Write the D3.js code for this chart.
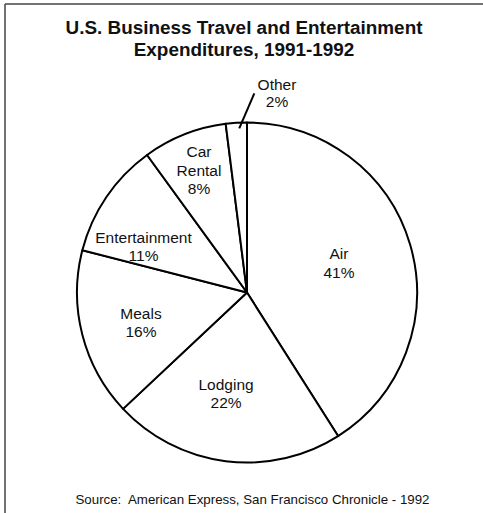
<!DOCTYPE html>
<html>
<head>
<meta charset="utf-8">
<script src="https://cdn.jsdelivr.net/npm/d3@7"></script>
<style>
  html, body { margin: 0; padding: 0; background: #fff; }
  svg { display: block; }
  text { font-family: "Liberation Sans", Arial, Helvetica, sans-serif; fill: #111; white-space: pre; }
</style>
</head>
<body>
<svg id="chart" width="483" height="513"></svg>
<script>
// Expenditure categories and their shares (percent), clockwise from 12 o'clock
const categories = ["Air", "Lodging", "Meals", "Entertainment", "Car Rental", "Other"];
const shares = [41, 22, 16, 11, 8, 2];
// Label text lines for each slice (category name may wrap)
const labelLines = [["Air"], ["Lodging"], ["Meals"], ["Entertainment"], ["Car", "Rental"], ["Other"]];
// Label placement: radius as a fraction of the pie radius, angle nudge in degrees
const labelRadius = [0.568, 0.607, 0.648, 0.666, 0.774, 1.187];
const labelNudge = [-1.6, 4.5, -1.4, -10.3, 0.2, 12.15];
const titleLines = ["U.S. Business Travel and Entertainment", "Expenditures, 1991-1992"];
const sourceNote = "Source:  American Express, San Francisco Chronicle - 1992";

const svg = d3.select("#chart");
const W = 483, H = 513;
const cx = 247, cy = 292.5, R = 170;

// Frame: top rule and left rule
svg.append("line").attr("x1", 5).attr("y1", 4).attr("x2", W).attr("y2", 4)
  .attr("stroke", "#444").attr("stroke-width", 1.5);
svg.append("line").attr("x1", 5).attr("y1", 4).attr("x2", 5).attr("y2", H)
  .attr("stroke", "#444").attr("stroke-width", 1.5);

// Title
svg.append("g").selectAll("text").data(titleLines).join("text")
  .attr("x", 244).attr("y", (d, i) => 34 + i * 21.5)
  .attr("text-anchor", "middle")
  .style("font-weight", "bold").style("font-size", "18.9px")
  .text(d => d);

const data = categories.map((c, i) => ({
  category: c, value: shares[i], lines: labelLines[i],
  lr: labelRadius[i], nudge: labelNudge[i]
}));

const pie = d3.pie().value(d => d.value).sort(null);
const arcs = pie(data);
const arc = d3.arc().innerRadius(0).outerRadius(R);

const g = svg.append("g").attr("transform", `translate(${cx},${cy})`);

g.selectAll("path.slice").data(arcs).join("path")
  .attr("class", "slice")
  .attr("d", arc)
  .attr("fill", "#fff")
  .attr("stroke", "#000")
  .attr("stroke-width", 2)
  .attr("stroke-linejoin", "round");

const polar = (angle, r) => [Math.sin(angle) * r, -Math.cos(angle) * r];
const deg = Math.PI / 180;

// Labels
arcs.forEach(a => {
  const mid = (a.startAngle + a.endAngle) / 2;
  const outside = a.data.category === "Other";
  const lineH = outside ? 17.7 : 18.3;
  const [x, y] = polar(mid + a.data.nudge * deg, R * a.data.lr);
  const lines = a.data.lines.concat([a.data.value + "%"]);
  const n = lines.length;
  const y0 = y - (n - 1) * lineH / 2 + 5.5;
  g.append("g").selectAll("text").data(lines).join("text")
    .attr("x", x).attr("y", (d, i) => y0 + i * lineH)
    .attr("text-anchor", "middle").style("font-size", "15.5px")
    .text(d => d);

  if (outside) {
    // leader line from the outside label into the thin slice
    const [ix, iy] = polar(mid + 0.9 * deg, R * 0.967);
    const [ox, oy] = polar(mid + 5.7 * deg, R * 1.172);
    g.append("line")
      .attr("x1", ix).attr("y1", iy)
      .attr("x2", ox).attr("y2", oy)
      .attr("stroke", "#000").attr("stroke-width", 2);
  }
});

// Source note
svg.append("text")
  .attr("x", 252.5).attr("y", 503.5)
  .attr("text-anchor", "middle").style("font-size", "13.3px")
  .text(sourceNote);
</script>
</body>
</html>
